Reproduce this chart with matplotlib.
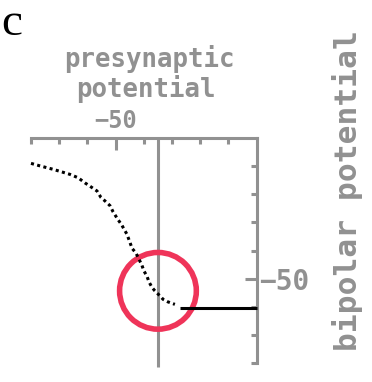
import matplotlib
matplotlib.use("Agg")
import matplotlib.pyplot as plt
from matplotlib.patches import Circle

# ---- data (mV) ----
curve_x = [-80.0, -76.8, -72.2, -66.2, -63.3, -60.9, -59.1, -56.6, -55.2, -53.8,
           -52.0, -50.9, -49.2, -47.8, -47.0, -46.0, -44.9, -44.2, -42.8, -40.7,
           -40.0, -38.9, -38.2, -37.1, -36.1, -33.9, -33.2, -31.5, -29.0]
curve_y = [-9.1, -10.0, -11.2, -13.0, -14.2, -16.0, -17.2, -18.9, -21.2, -22.4,
           -24.1, -26.3, -29.0, -31.0, -32.5, -34.2, -37.2, -39.2, -40.9, -45.2,
           -47.2, -49.1, -51.1, -53.1, -54.3, -56.5, -57.3, -58.2, -59.1]
plateau_x = [-27.2, 0.0]
plateau_y = [-60.4, -60.4]
rest_potential = -35.0
highlight_center = (-35.0, -54.3)
highlight_radius = 13.6
minor_ticks = [-80, -70, -60, -40, -30, -20, -10]
major_ticks = [-50]
major_labels = ["\u221250"]
y_minor_ticks = [-10, -20, -30, -40, -60, -70, -80]

GRAY = "#919191"
RED = "#EF3459"
W, H = 372, 382

fig = plt.figure(figsize=(W / 100, H / 100), dpi=100)
ax = fig.add_axes([31 / W, 1 - 363.3 / H, (256.7 - 31) / W, (363.3 - 137.7) / H])
ax.set_xlim(-80, 0)
ax.set_ylim(-80, 0)
ax.patch.set_visible(False)

for s in ("left", "bottom"):
    ax.spines[s].set_visible(False)
for s in ("top", "right"):
    ax.spines[s].set_color(GRAY)
    ax.spines[s].set_linewidth(2.2)

mono = dict(family="DejaVu Sans Mono", weight="bold")

ax.set_xticks(major_ticks)
ax.set_xticklabels(major_labels, color=GRAY, fontsize=17, **mono)
ax.set_xticks(minor_ticks, minor=True)
ax.tick_params(axis="x", which="both", top=True, bottom=False, labeltop=True,
               labelbottom=False, direction="in", color=GRAY, width=2.2)
ax.tick_params(axis="x", which="major", length=8.7, pad=3.4)
ax.tick_params(axis="x", which="minor", length=4.5)

ax.set_yticks(major_ticks)
ax.set_yticklabels(major_labels, color=GRAY, fontsize=20, **mono)
ax.set_yticks(y_minor_ticks, minor=True)
ax.tick_params(axis="y", which="both", right=True, left=False, labelright=True,
               labelleft=False, direction="in", color=GRAY, width=2.2)
ax.tick_params(axis="y", which="major", length=8.7, pad=1.5)
ax.tick_params(axis="y", which="minor", length=4.5)

# vertical reference line at resting potential
ax.axvline(rest_potential, ymin=-0.017, ymax=1, color=GRAY, lw=2.2,
           clip_on=False, zorder=1, solid_capstyle="butt")

# highlight ring
ax.add_patch(Circle(highlight_center, highlight_radius, fill=False,
                    ec=RED, lw=4.0, clip_on=False, zorder=2))

# curve
ax.plot(curve_x, curve_y, color="black", lw=2.2, linestyle=(0, (1, 1.1)),
        dash_capstyle="butt", clip_on=False, zorder=3)
ax.plot(plateau_x, plateau_y, color="black", lw=2.2, solid_capstyle="butt",
        clip_on=False, zorder=3)

# texts
fig.text(1 / W, 1 - 35 / H, "c", ha="left", va="baseline",
         family="Liberation Serif", fontsize=34, color="black")
fig.text(149 / W, 1 - 67 / H, "presynaptic", ha="center", va="baseline",
         fontsize=18.5, color=GRAY, **mono)
fig.text(146 / W, 1 - 97 / H, "potential", ha="center", va="baseline",
         fontsize=18.5, color=GRAY, **mono)
fig.text(357 / W, 1 - 191 / H, "bipolar potential", rotation=90,
         rotation_mode="anchor", ha="center", va="baseline",
         fontsize=22.5, color=GRAY, **mono)

fig.savefig("out.png", dpi=100)
